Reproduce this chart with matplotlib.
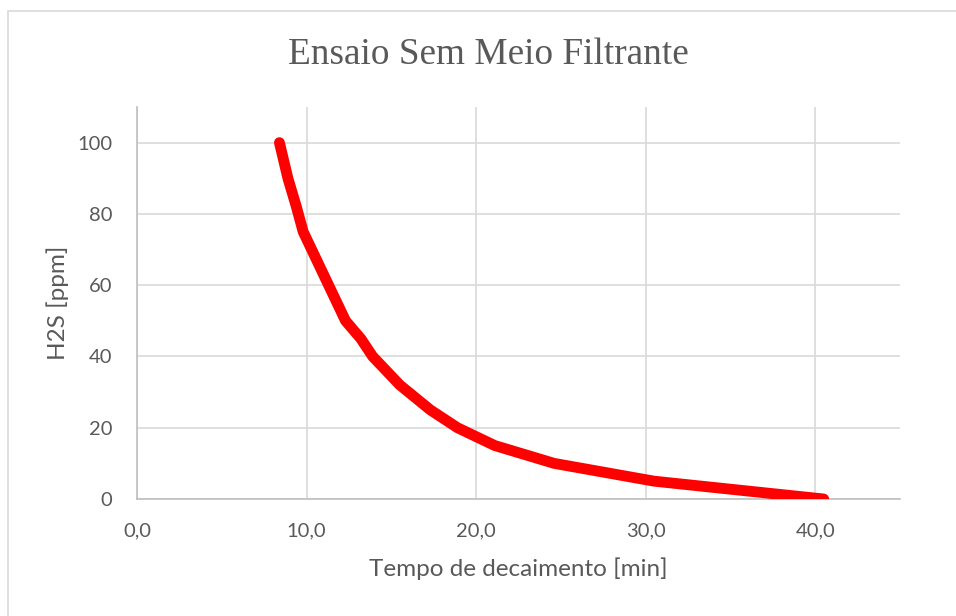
import matplotlib.pyplot as plt
from matplotlib.patches import Rectangle

# data
tempo = [8.4, 8.9, 9.4, 9.8, 11.0, 12.3, 13.2, 13.9, 15.5, 17.3, 18.9, 21.1, 24.6, 30.5, 40.5]
h2s = [100, 90, 82, 75, 63, 50, 45, 40, 32, 25, 20, 15, 10, 5, 0]

x_ticks = [0, 10, 20, 30, 40]
y_ticks = [0, 20, 40, 60, 80, 100]

grey_text = "#595959"
grid_col = "#D9D9D9"
axis_col = "#BFBFBF"
sans = ["Lato", "DejaVu Sans"]

fig = plt.figure(figsize=(9.56, 6.16), dpi=100)

# outer chart border
fig.patches.append(Rectangle((8 / 956, -0.1), 1.1, 1 - 11 / 616 + 0.1,
                             transform=fig.transFigure, fill=False,
                             edgecolor=grid_col, linewidth=1.2))

ax = fig.add_axes([137 / 956, 1 - 499 / 616, (900 - 137) / 956, (499 - 107) / 616])

ax.plot(tempo, h2s, color="#FF0000", linewidth=7.8, solid_capstyle="round",
        solid_joinstyle="round", zorder=3)

ax.set_xlim(0, 45)
ax.set_ylim(0, 110)
ax.set_xticks(x_ticks)
ax.set_yticks(y_ticks)
ax.set_xticklabels([f"{v:.1f}".replace(".", ",") for v in x_ticks])
ax.set_yticklabels([str(v) for v in y_ticks])

ax.grid(True, color=grid_col, linewidth=1.2)
ax.set_axisbelow(True)
for side in ["top", "right"]:
    ax.spines[side].set_visible(False)
for side in ["left", "bottom"]:
    ax.spines[side].set_color(axis_col)
    ax.spines[side].set_linewidth(1.2)

ax.tick_params(length=0, labelsize=14.5, labelcolor=grey_text)
ax.tick_params(axis="x", pad=17)
ax.tick_params(axis="y", pad=18)
for lab in ax.get_xticklabels() + ax.get_yticklabels():
    lab.set_family(sans)

ax.set_xlabel("Tempo de decaimento [min]", fontsize=17.5, color=grey_text,
              family=sans, labelpad=13)
ax.set_ylabel("H2S [ppm]", fontsize=17.5, color=grey_text, family=sans, labelpad=6)

fig.text(488 / 956, 1 - 55 / 616, "Ensaio Sem Meio Filtrante", ha="center", va="center",
         fontsize=26.8, color=grey_text, family="Liberation Serif")

fig.savefig("out.png", dpi=100)
